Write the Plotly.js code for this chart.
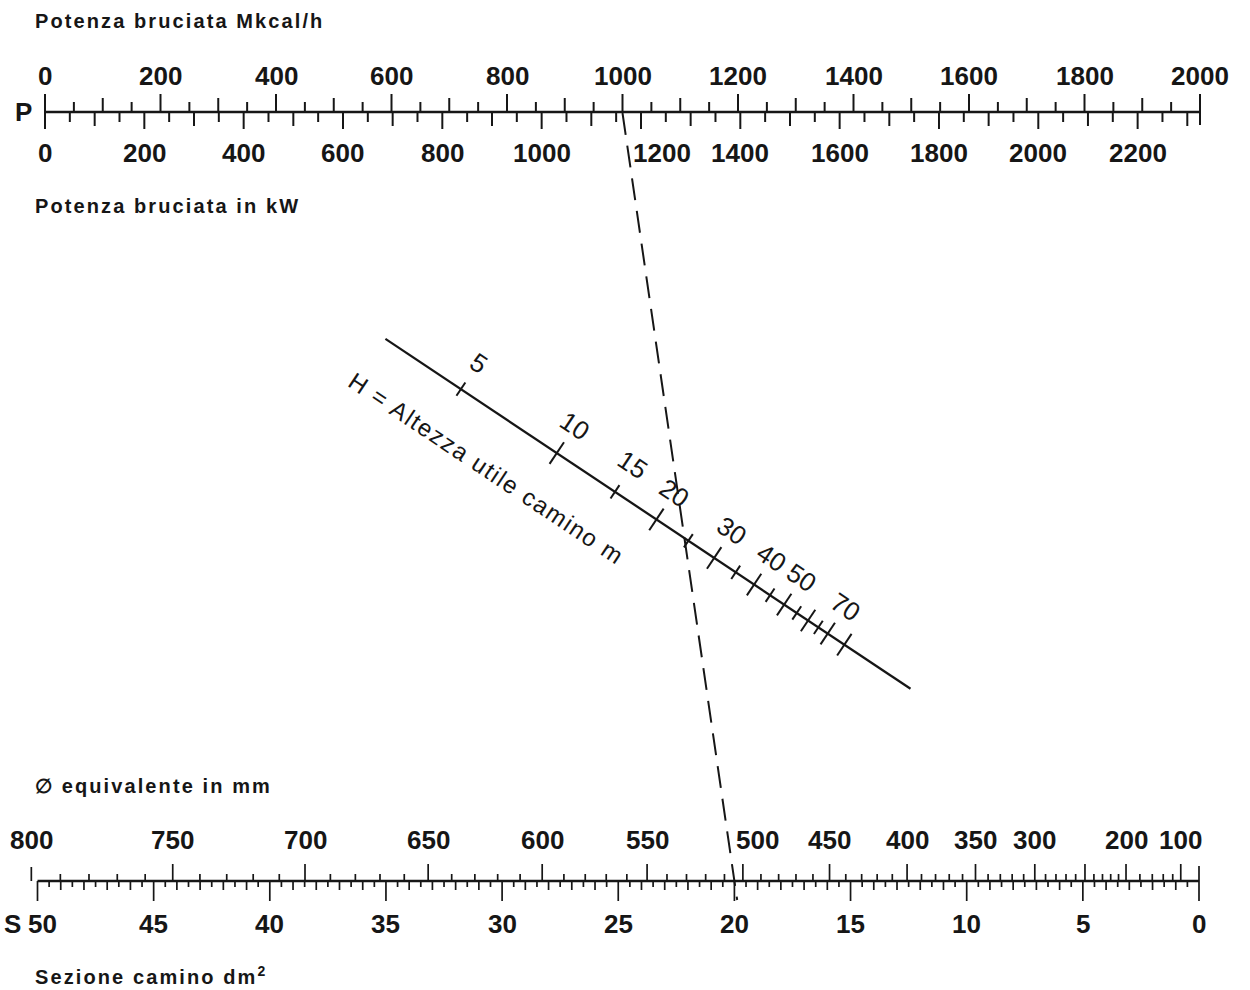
<!DOCTYPE html>
<html><head><meta charset="utf-8">
<script src="https://cdn.plot.ly/plotly-3.0.1.min.js"></script>
<style>html,body{margin:0;padding:0;background:#fff}</style>
</head><body><div id="chart" style="width:1250px;height:990px"></div>
<script>
// ---------------- data ----------------
const powerMkcalLabels = [0,200,400,600,800,1000,1200,1400,1600,1800,2000];
const powerKwLabels = [0,200,400,600,800,1000,1200,1400,1600,1800,2000,2200];
const heightTicks = [5,10,15,20,25,30,35,40,45,50,55,60,65,70,80];
const heightLabels = [5,10,15,20,30,40,50,70];
const diameterLabels = [800,750,700,650,600,550,500,450,400,350,300,200,100];
const sectionLabels = [50,45,40,35,30,25,20,15,10,5,0];
const examplePowerMkcal = 1000;   // dashed example line, top scale
const exampleSection = 20;        // dashed example line, bottom scale
const titleTop = 'Potenza bruciata Mkcal/h';
const titleKw = 'Potenza bruciata in kW';
const titleDiam = '\u2205 equivalente in mm';
const titleSection = 'Sezione camino dm<sup>2</sup>';
const titleHeight = 'H = Altezza utile camino m';

// ---------------- scales (nomogram geometry) ----------------
const TOP_Y = 112, BOT_Y = 881;
const P0X = 45, P1X = 1200, PMAX = 2000;          // Mkcal/h scale
const KW_TO_MKCAL = 0.86;
const S0X = 1199, S50X = 37.5, SMAX = 50;          // section scale (dm2)
const HC = 0.252;                                   // Z-chart constant
const xP = v => P0X + v * (P1X - P0X) / PMAX;
const xS = s => S0X - s * (S0X - S50X) / SMAX;
const sFromD = d => Math.PI * Math.pow(d / 100, 2) / 4;
const A = [xP(0), TOP_Y], B = [xS(0), BOT_Y];
const DL = Math.hypot(B[0]-A[0], B[1]-A[1]);
const U = [(B[0]-A[0])/DL, (B[1]-A[1])/DL];   // along diagonal
const N = [U[1], -U[0]];                      // normal pointing up-right
const ANG = Math.atan2(U[1], U[0]) * 180 / Math.PI;
const tH = h => { const r = HC * Math.sqrt(h); return r / (1 + r); };
const ptT = t => [A[0] + t*(B[0]-A[0]), A[1] + t*(B[1]-A[1])];

// ---------------- helpers ----------------
const INK = '#161616';
const FAM = 'Liberation Sans, Arial, Helvetica, sans-serif';
function segTrace(segs, width, dash) {
  const x = [], y = [];
  segs.forEach(s => { x.push(s[0], s[2], null); y.push(s[1], s[3], null); });
  return {type:'scatter', mode:'lines', x, y, hoverinfo:'skip', showlegend:false,
          line:{color:INK, width, dash: dash || 'solid'}};
}
const ann = [];
function label(text, x, y, size, opts) {
  ann.push(Object.assign({text, x, y, xref:'x', yref:'y', showarrow:false,
    xanchor:'center', yanchor:'middle',
    font:{family:FAM, size, color:INK, weight: 700}}, opts || {}));
}
const spaced = (t, px) => '<span style="letter-spacing:' + px + 'px">' + t + '</span>';

const traces = [];

// ---- top scale ----
const topTicks = [];
for (let v = 0; v <= PMAX; v += 50) {
  const len = v % 200 === 0 ? 18 : (v % 100 === 0 ? 14 : 10);
  topTicks.push([xP(v), TOP_Y, xP(v), TOP_Y - len]);
}
for (let v = 0; v <= 2300; v += 50) {
  const len = v % 200 === 0 ? 17 : (v % 100 === 0 ? 14 : 10);
  const x = xP(v * KW_TO_MKCAL);
  topTicks.push([x, TOP_Y, x, TOP_Y + len]);
}
topTicks.push([xP(PMAX), TOP_Y, xP(PMAX), TOP_Y + 13]);
traces.push(segTrace(topTicks, 2));
traces.push(segTrace([[xP(0), TOP_Y, xP(PMAX), TOP_Y]], 2.3));

// ---- bottom scale ----
const botTicks = [];
const diamTickVals = [];
for (let d = 800; d >= 200; d -= 10) diamTickVals.push(d);
for (let d = 180; d >= 100; d -= 20) diamTickVals.push(d);
diamTickVals.forEach(d => {
  const len = d === 800 ? 14 : (d % 50 === 0 ? 17 : 7);
  const x = xS(sFromD(d));
  botTicks.push([x, BOT_Y, x, BOT_Y - len]);
});
for (let i = 0; i <= 100; i++) {
  const s = i / 2;
  const len = (i % 10 === 0) ? 20 : (i % 2 === 0 ? 9 : 6);
  botTicks.push([xS(s), BOT_Y, xS(s), BOT_Y + len]);
}
botTicks.push([xS(0), BOT_Y, xS(0), BOT_Y - 15]);
traces.push(segTrace(botTicks, 1.7));
traces.push(segTrace([[xS(SMAX), BOT_Y, xS(0), BOT_Y]], 2.3));

// ---- height (diagonal) scale ----
const p0 = ptT(0.295), p1 = ptT(0.75);
traces.push(segTrace([[p0[0], p0[1], p1[0], p1[1]]], 2.3));
const hSegs = heightTicks.map(h => {
  const p = ptT(tH(h));
  const L = h % 10 === 0 ? 13 : 8;
  return [p[0] + N[0]*L, p[1] + N[1]*L, p[0] - N[0]*L, p[1] - N[1]*L];
});
traces.push(segTrace(hSegs, 2));

// ---- dashed example line ----
const dTop = [xP(examplePowerMkcal), TOP_Y + 1], dBot = [xS(exampleSection), BOT_Y];
const ext = 19 / (dBot[1] - dTop[1]);
const dEnd = [dBot[0] + (dBot[0]-dTop[0])*ext, dBot[1] + (dBot[1]-dTop[1])*ext];
traces.push(segTrace([[dTop[0], dTop[1], dEnd[0], dEnd[1]]], 2, '22px,11px'));

// ---------------- labels ----------------
const NUM = 26;
const kwShift = {1200: 21};
const diamShift = {500: 15};
powerMkcalLabels.forEach(v => label(String(v), xP(v), 76, NUM));
powerKwLabels.forEach(v => label(String(v), xP(v*KW_TO_MKCAL) + (kwShift[v]||0), 153, NUM));
diameterLabels.forEach(d => label(String(d), xS(sFromD(d)) + (diamShift[d]||0), 840, NUM));
sectionLabels.forEach(s => label(String(s), xS(s) + (s === 50 ? 5 : 0), 924, NUM));
label('P', 23, 112, NUM);
label('S', 12, 924, NUM);

label(spaced(titleTop, 2.1), 33, 21, 20, {xanchor:'left'});
label(spaced(titleKw, 2.1), 33, 206, 20, {xanchor:'left'});
label(spaced(titleDiam, 2.1), 33, 786, 20, {xanchor:'left'});
label(spaced(titleSection, 2.1), 33, 975, 20, {xanchor:'left'});

const REG = {family:FAM, size:26, color:INK, weight:400};
heightLabels.forEach(h => {
  const p = ptT(tH(h));
  label(String(h), p[0] + N[0]*32, p[1] + N[1]*32, 26, {textangle: ANG, font:REG});
});
const hp = ptT(0.4075);
label(spaced(titleHeight, 1.6), hp[0] - N[0]*52, hp[1] - N[1]*52, 24,
      {textangle: ANG, font:Object.assign({}, REG, {size:24})});

const layout = {
  width:1250, height:990, margin:{l:0,r:0,t:0,b:0},
  paper_bgcolor:'#fff', plot_bgcolor:'#fff',
  xaxis:{range:[0,1250], visible:false, fixedrange:true},
  yaxis:{range:[990,0], visible:false, fixedrange:true},
  annotations: ann, showlegend:false
};
Plotly.newPlot('chart', traces, layout, {staticPlot:true, displayModeBar:false});
</script></body></html>
